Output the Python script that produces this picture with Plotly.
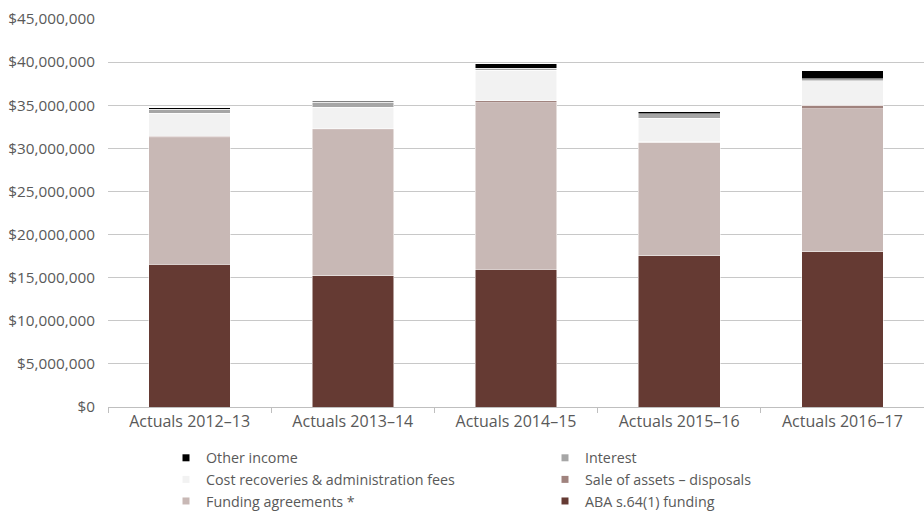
import plotly.graph_objects as go

# Revenue by source, stacked per financial year
years = ["Actuals 2012–13", "Actuals 2013–14", "Actuals 2014–15",
         "Actuals 2015–16", "Actuals 2016–17"]

aba_funding = [16530000, 15250000, 15990000, 17530000, 18030000]
funding_agreements = [14670000, 16880000, 19310000, 13200000, 16540000]
sale_of_assets = [230000, 150000, 230000, 50000, 430000]
cost_recoveries = [2630000, 2480000, 3550000, 2710000, 2860000]
interest = [460000, 580000, 200000, 500000, 200000]
other_income = [190000, 150000, 530000, 270000, 960000]

series = [
    ("ABA s.64(1) funding", aba_funding, "#653A33"),
    ("Funding agreements *", funding_agreements, "#C8B8B5"),
    ("Sale of assets – disposals", sale_of_assets, "#A0837E"),
    ("Cost recoveries & administration fees", cost_recoveries, "#F2F2F2"),
    ("Interest", interest, "#A6A6A6"),
    ("Other income", other_income, "#000000"),
]

fig = go.Figure()
for name, values, color in series:
    # stacked bar segment (bottom to top in list order)
    fig.add_trace(go.Bar(
        name=name, x=years, y=values, legendgroup=name, showlegend=False,
        marker=dict(color=color, line=dict(color="#FFFFFF", width=0.5)),
    ))
    # small square swatch for the legend
    fig.add_trace(go.Scatter(
        name=name, x=[None], y=[None], mode="markers", legendgroup=name,
        marker=dict(symbol="square", size=7, color=color),
    ))

text_color = "#595959"
fig.update_layout(
    barmode="stack",
    bargap=0.5,
    width=924, height=513,
    margin=dict(l=108, r=0, t=19, b=106, autoexpand=False),
    paper_bgcolor="white",
    plot_bgcolor="white",
    font=dict(family="Open Sans", size=15, color=text_color),
    showlegend=True,
    legend=dict(
        orientation="h",
        traceorder="reversed",
        xref="container", yref="container",
        x=166 / 924, xanchor="left",
        y=1 - 442 / 513, yanchor="top",
        entrywidth=334, entrywidthmode="pixels",
        itemwidth=30,
        font=dict(size=14.3, color=text_color),
        bgcolor="rgba(0,0,0,0)",
    ),
    xaxis=dict(
        type="category",
        showline=True, linecolor="#BFBFBF", linewidth=1,
        ticks="outside", tickson="boundaries", ticklen=5, tickcolor="#BFBFBF",
        showgrid=False,
        tickfont=dict(size=16, color=text_color),
    ),
    yaxis=dict(
        range=[0, 45000000],
        dtick=5000000,
        tickformat="$,.0f",
        showgrid=True, gridcolor="#C8C8C8", gridwidth=1,
        zeroline=False,
        ticks="", ticklen=0,
        ticklabelstandoff=12,
        tickfont=dict(size=15.3, color=text_color),
    ),
)

fig.write_html("out.html")
